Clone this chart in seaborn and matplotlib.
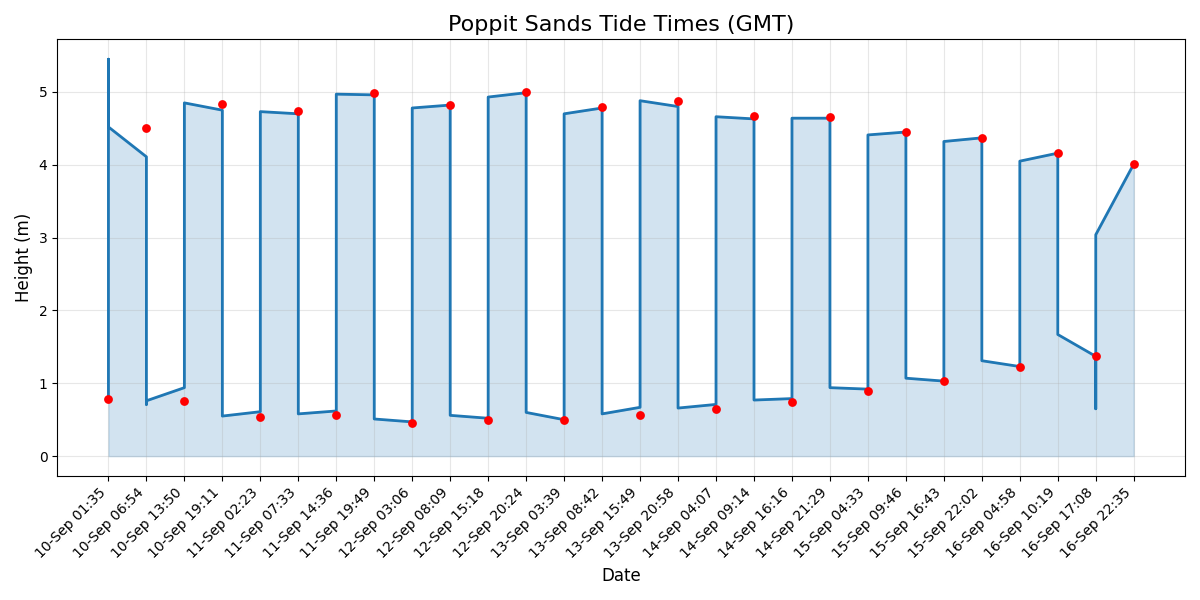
import matplotlib
matplotlib.use("Agg")
import matplotlib.pyplot as plt
import seaborn as sns
import pandas as pd

# Tide event labels (categories)
dates = ["10-Sep 01:35", "10-Sep 06:54", "10-Sep 13:50", "10-Sep 19:11",
         "11-Sep 02:23", "11-Sep 07:33", "11-Sep 14:36", "11-Sep 19:49",
         "12-Sep 03:06", "12-Sep 08:09", "12-Sep 15:18", "12-Sep 20:24",
         "13-Sep 03:39", "13-Sep 08:42", "13-Sep 15:49", "13-Sep 20:58",
         "14-Sep 04:07", "14-Sep 09:14", "14-Sep 16:16", "14-Sep 21:29",
         "15-Sep 04:33", "15-Sep 09:46", "15-Sep 16:43", "15-Sep 22:02",
         "16-Sep 04:58", "16-Sep 10:19", "16-Sep 17:08", "16-Sep 22:35"]

# Tide heights (red markers)
heights = [0.79, 4.50, 0.76, 4.83, 0.54, 4.74, 0.56, 4.98, 0.45, 4.82,
           0.50, 5.00, 0.49, 4.79, 0.57, 4.87, 0.65, 4.67, 0.75, 4.65,
           0.90, 4.45, 1.03, 4.37, 1.23, 4.16, 1.37, 4.01]

# Blue curve: category index of each vertex and its height
curve_idx = [0, 0, 0, 1, 1, 1, 2, 2, 3, 3, 4, 4, 5, 5, 6, 6, 7, 7, 8, 8,
             9, 9, 10, 10, 11, 11, 12, 12, 13, 13, 14, 14, 15, 15, 16, 16,
             17, 17, 18, 18, 19, 19, 20, 20, 21, 21, 22, 22, 23, 23, 24, 24,
             25, 25, 26, 26, 26, 27]
curve_val = [0.79, 5.45, 4.52, 4.11, 0.71, 0.76, 0.94, 4.85, 4.75, 0.55,
             0.61, 4.73, 4.70, 0.58, 0.62, 4.97, 4.96, 0.51, 0.47, 4.78,
             4.82, 0.56, 0.52, 4.93, 4.99, 0.60, 0.50, 4.70, 4.78, 0.58,
             0.67, 4.88, 4.80, 0.66, 0.71, 4.66, 4.63, 0.77, 0.79, 4.64,
             4.64, 0.94, 0.92, 4.41, 4.45, 1.07, 1.03, 4.32, 4.37, 1.31,
             1.23, 4.05, 4.16, 1.67, 1.37, 0.65, 3.04, 4.01]

pos = list(range(len(dates)))
curve = pd.DataFrame({"x": curve_idx, "y": curve_val})
points = pd.DataFrame({"x": pos, "y": heights})

fig, ax = plt.subplots(figsize=(12, 6), dpi=100)

ax.fill_between(curve["x"], 0, curve["y"], color="#1f77b4", alpha=0.2)
sns.lineplot(data=curve, x="x", y="y", sort=False, estimator=None,
             color="#1f77b4", linewidth=2, ax=ax, zorder=2)
sns.scatterplot(data=points, x="x", y="y", color="red", s=40,
                linewidth=0, ax=ax, zorder=3)

ax.set_xticks(pos)
ax.set_xticklabels(dates, rotation=45, ha="right")
ax.set_title("Poppit Sands Tide Times (GMT)", fontsize=16)
ax.set_xlabel("Date", fontsize=12)
ax.set_ylabel("Height (m)", fontsize=12)
ax.grid(True, alpha=0.3)

fig.tight_layout()
fig.savefig("out.png", dpi=100)
